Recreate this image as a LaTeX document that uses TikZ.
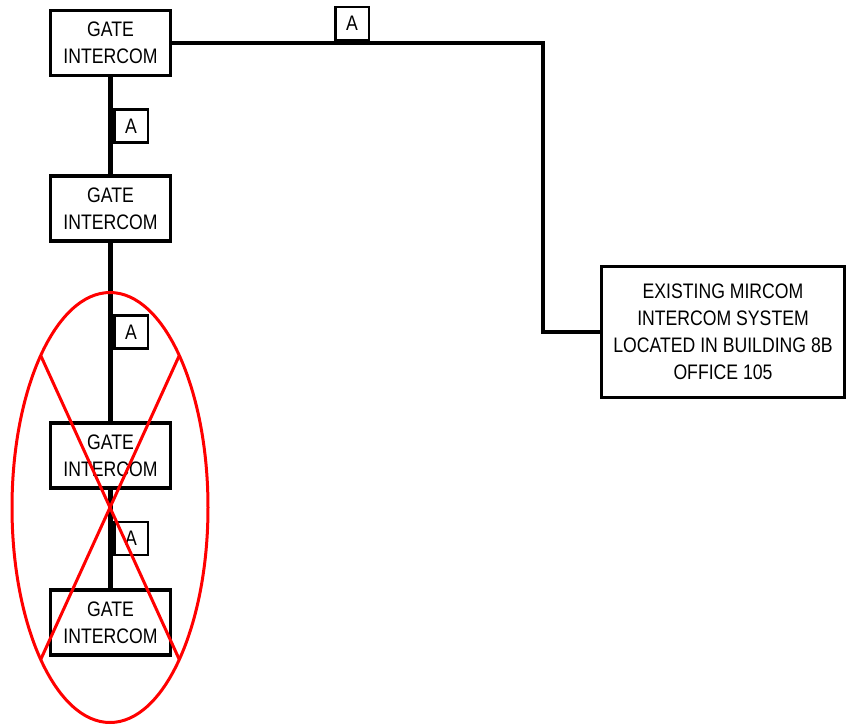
\documentclass[tikz,border=0pt]{standalone}
\usepackage{fontspec}
\setmainfont{Liberation Sans}[FakeStretch=0.84]
\usetikzlibrary{shapes.geometric}
\tikzset{
    gate/.style={draw, line width=3.2pt, minimum width=120pt, minimum height=65pt, align=center, inner sep=0pt, outer sep=0pt},
    tag/.style={draw, line width=2.5pt, minimum width=33.5pt, minimum height=33pt, inner sep=0pt},
    wire/.style={line width=5pt},
    feed/.style={line width=4pt},
}
\begin{document}
\begin{tikzpicture}[x=1pt, y=-1pt, font=\fontsize{21}{27}\selectfont]
        \useasboundingbox (0,0) rectangle (846,726);
        \foreach \n/\y in {g1/43, g2/208.5, g3/455.5, g4/622.5}
            \node[gate] (\n) at (110.5,\y) {GATE\\INTERCOM};
        \node[gate, minimum width=243pt, minimum height=131pt] (mircom) at (723,332)
            {EXISTING MIRCOM\\INTERCOM SYSTEM\\LOCATED IN BUILDING 8B\\OFFICE 105};

        \draw[wire] (g1) -- (g2);
        \draw[wire] (g2) -- (g3);
        \draw[wire] (g3) -- (g4);
        \coordinate (turn) at (543,43);
        \draw[feed] (g1.east) -- (turn) |- (mircom.west);

        \foreach \t/\x/\y in {t1/131/126, t2/131/332, t3/131/538.5, t4/352/23.5}
            \node[tag, fill=white] (\t) at (\x,\y) {A};

        \node[draw=red, line width=3pt, ellipse, minimum width=196pt, minimum height=430pt, inner sep=0pt, outer sep=0pt] (void) at (110,507.5) {};
        \draw[red, line width=3pt] (void.north west) -- (void.south east);
        \draw[red, line width=3pt] (void.north east) -- (void.south west);
    \end{tikzpicture}
\end{document}
